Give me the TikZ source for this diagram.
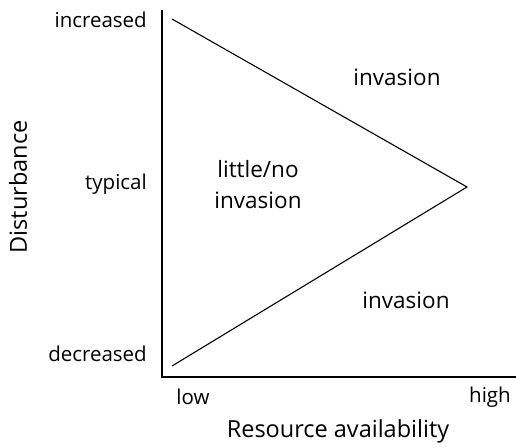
\documentclass[tikz,border=0pt]{standalone}
\usepackage{fontspec}
\setmainfont{Open Sans}
\begin{document}
\begin{tikzpicture}[x=1pt,y=-1pt,
  lbl/.style={font=\fontsize{20.5}{26}\selectfont, inner sep=0pt},
  inn/.style={font=\fontsize{22.5}{31}\selectfont, inner sep=0pt},
  ttl/.style={font=\fontsize{23.5}{28}\selectfont, inner sep=0pt},
  ln/.style={draw=black, line width=1.1pt}]
\useasboundingbox (0,0) rectangle (516,447);
\coordinate (ytop) at (162,10);
\coordinate (orig) at (162,377);
\coordinate (xend) at (516,377);
\coordinate (tl) at (172,19);
\coordinate (bl) at (172,366);
\coordinate (apex) at (467,187);
\draw[ln] (ytop) -- (orig) -- (xend);
\draw[ln] (tl) -- (apex) -- (bl);
\node[lbl, anchor=east] (inc) at (147,20) {increased};
\node[lbl, anchor=east] (typ) at (147,184) {typical};
\node[lbl, anchor=east] (dec) at (147,354) {decreased};
\node[ttl, rotate=90] (dist) at (18,187) {Disturbance};
\node[lbl] (low) at (193,397) {low};
\node[lbl] (high) at (490,397) {high};
\node[ttl] (res) at (338,431) {Resource availability};
\node[inn] (inv1) at (397,77) {invasion};
\node[inn, align=center] (little) at (258,185) {little/no\\invasion};
\node[inn] (inv2) at (406,300) {invasion};
\end{tikzpicture}
\end{document}
